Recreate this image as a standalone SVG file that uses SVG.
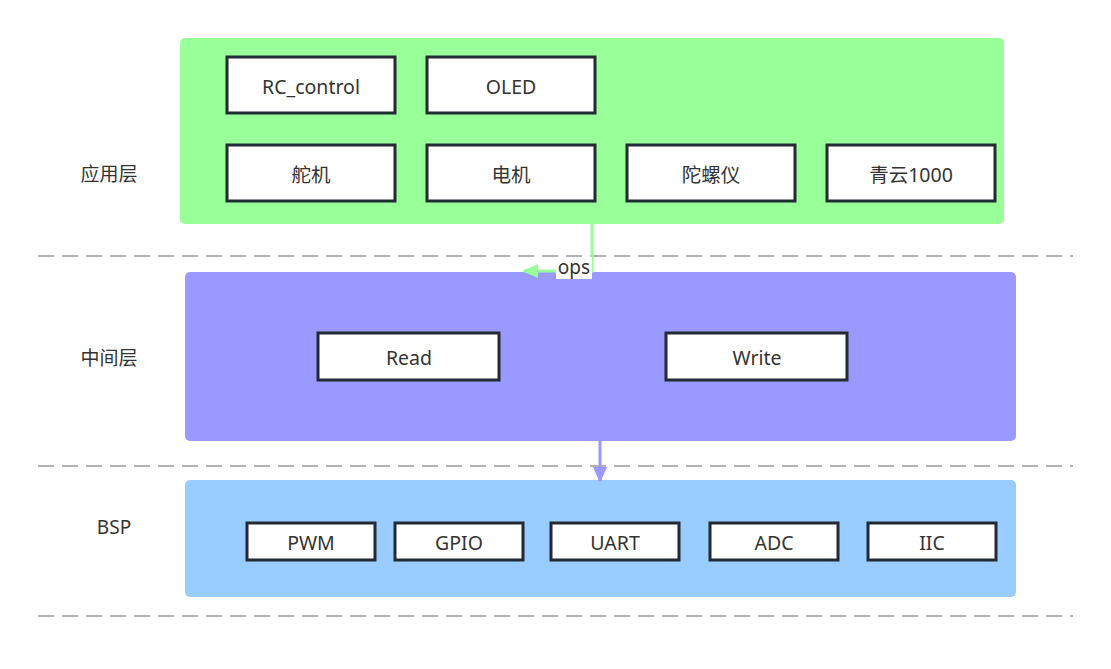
<svg xmlns="http://www.w3.org/2000/svg" width="1111" height="669" viewBox="0 0 1111 669">
<style>
text{font-family:"Noto Sans","Noto Sans CJK SC",sans-serif;fill:#333;text-anchor:middle;dominant-baseline:central}
.box{fill:#fff;stroke:#222b33;stroke-width:3}
.big{font-size:19.5px}
.lbl{font-size:19px}
.dash{stroke:#999;stroke-width:1.5;stroke-dasharray:16 8;fill:none}
</style>
<defs>
<marker id="ag" markerWidth="16" markerHeight="14" refX="14" refY="7" orient="auto" markerUnits="userSpaceOnUse"><path d="M0,0 L16,7 L0,14 Z" fill="#99ff99"/></marker>
<marker id="ap" markerWidth="14" markerHeight="16" refX="14" refY="7" orient="auto" markerUnits="userSpaceOnUse"><path d="M0,0 L16,7 L0,14 Z" fill="#9999ff"/></marker>
</defs>
<rect width="1111" height="669" fill="#fff"/>
<g id="guides">
<line class="dash" x1="38" y1="256" x2="1073" y2="256"/>
<line class="dash" x1="38" y1="466" x2="1073" y2="466"/>
<line class="dash" x1="38" y1="616" x2="1073" y2="616"/>
</g>
<g id="layer-app">
<rect x="180" y="38" width="824" height="186" rx="5" fill="#99ff99"/>
<text class="lbl" x="109" y="174">应用层</text>
</g>
<g id="layer-mid">
<rect x="185" y="272" width="831" height="169" rx="5" fill="#9999ff"/>
<text class="lbl" x="109" y="358">中间层</text>
</g>
<g id="layer-bsp">
<rect x="185" y="480" width="831" height="117" rx="5" fill="#99ccff"/>
<text class="lbl" x="114" y="527">BSP</text>
</g>
<g id="connectors">
<path d="M592,224 L592,271 L524,271" fill="none" stroke="#99ff99" stroke-width="3" marker-end="url(#ag)"/>
<rect x="556" y="257" width="36" height="22" fill="#fff"/>
<text class="lbl" x="574" y="267">ops</text>
<path d="M600,441 L600,481" fill="none" stroke="#9999ff" stroke-width="3" marker-end="url(#ap)"/>
</g>
<g id="n-rc"><rect class="box" x="227" y="57" width="168" height="56"/><text class="big" x="311" y="86">RC_control</text></g>
<g id="n-oled"><rect class="box" x="427" y="57" width="168" height="56"/><text class="big" x="511" y="86">OLED</text></g>
<g id="n-servo"><rect class="box" x="227" y="145" width="168" height="56"/><text class="big" x="311" y="174">舵机</text></g>
<g id="n-motor"><rect class="box" x="427" y="145" width="168" height="56"/><text class="big" x="511" y="174">电机</text></g>
<g id="n-gyro"><rect class="box" x="627" y="145" width="168" height="56"/><text class="big" x="711" y="174">陀螺仪</text></g>
<g id="n-qy"><rect class="box" x="827" y="145" width="168" height="56"/><text class="big" x="911" y="174">青云1000</text></g>
<g id="n-read"><rect class="box" x="318" y="333" width="181" height="47"/><text class="big" x="409" y="357">Read</text></g>
<g id="n-write"><rect class="box" x="666" y="333" width="181" height="47"/><text class="big" x="757" y="357">Write</text></g>
<g id="n-pwm"><rect class="box" x="247" y="523" width="128" height="37"/><text class="big" x="311" y="542">PWM</text></g>
<g id="n-gpio"><rect class="box" x="395" y="523" width="128" height="37"/><text class="big" x="459" y="542">GPIO</text></g>
<g id="n-uart"><rect class="box" x="551" y="523" width="128" height="37"/><text class="big" x="615" y="542">UART</text></g>
<g id="n-adc"><rect class="box" x="710" y="523" width="128" height="37"/><text class="big" x="774" y="542">ADC</text></g>
<g id="n-iic"><rect class="box" x="868" y="523" width="128" height="37"/><text class="big" x="932" y="542">IIC</text></g>
</svg>
